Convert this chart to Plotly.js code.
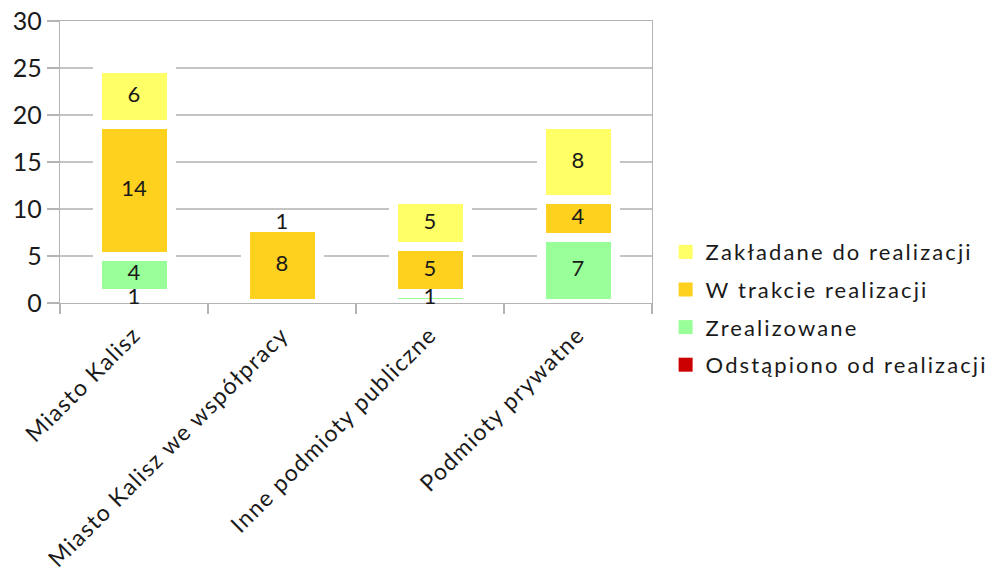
<!DOCTYPE html>
<html>
<head>
<meta charset="utf-8">
<script src="https://cdn.plot.ly/plotly-3.0.1.min.js"></script>
<style>
html,body{margin:0;padding:0;background:#fff;}
#chart{width:1003px;height:575px;}
#chart .legendtext{letter-spacing:2.1px;}
#chart .xtick text{letter-spacing:1.4px;}
#chart .legend [clip-path]{clip-path:none !important;}
</style>
</head>
<body>
<div id="chart"></div>
<script>
var categories = ["Miasto Kalisz", "Miasto Kalisz we współpracy", "Inne podmioty publiczne", "Podmioty prywatne"];
var seriesNames = ["Odstąpiono od realizacji", "Zrealizowane", "W trakcie realizacji", "Zakładane do realizacji"];
var odstapiono = [1, 0, 0, 0];
var zrealizowane = [4, 0, 1, 7];
var wTrakcie = [14, 8, 5, 4];
var zakladane = [6, 1, 5, 8];
var colors = ["#CC0000", "#99FF99", "#FFD11F", "#FFFF66"];
var outlineWidths = [10, 9, 9, 9];
var yTicks = [0, 5, 10, 15, 20, 25, 30];

var FONT = "Lato, 'DejaVu Sans', sans-serif";
var TXT = "#1a1a1a";
var seriesValues = [odstapiono, zrealizowane, wTrakcie, zakladane];

var traces = [];
// stacked bars (white outline makes the gaps between segments)
seriesValues.forEach(function (vals, i) {
  traces.push({
    type: "bar",
    name: seriesNames[i],
    x: categories,
    y: vals,
    showlegend: false,
    marker: { color: colors[i], line: { color: "#ffffff", width: outlineWidths[i] } },
    hoverinfo: "name+y"
  });
});

// value labels at the middle of each stacked segment
var labX = [], labY = [], labT = [];
categories.forEach(function (c, ci) {
  var base = 0;
  seriesValues.forEach(function (vals) {
    var v = vals[ci];
    if (v > 0) {
      labX.push(c);
      labY.push(base + v / 2);
      labT.push(String(v));
    }
    base += v;
  });
});
traces.push({
  type: "scatter",
  mode: "text",
  x: labX,
  y: labY,
  text: labT,
  textposition: "middle center",
  textfont: { family: FONT, size: 22, color: TXT },
  showlegend: false,
  hoverinfo: "skip",
  cliponaxis: false
});

// legend entries (square swatches)
for (var k = seriesNames.length - 1; k >= 0; k--) {
  traces.push({
    type: "scatter",
    mode: "markers",
    name: seriesNames[k],
    x: [null],
    y: [null],
    marker: { symbol: "square", size: 14, color: colors[k] },
    legendgroup: "g" + k,
    legendrank: seriesNames.length - k,
    showlegend: true,
    hoverinfo: "skip"
  });
}

var layout = {
  width: 1003,
  height: 575,
  margin: { l: 60, r: 351, t: 21, b: 272 },
  barmode: "stack",
  bargap: 0.5,
  paper_bgcolor: "#ffffff",
  plot_bgcolor: "#ffffff",
  font: { family: FONT, color: TXT },
  showlegend: true,
  legend: {
    x: 1.023, xanchor: "left",
    y: 0.255, yanchor: "top",
    traceorder: "grouped",
    tracegroupgap: 6,
    font: { family: FONT, size: 22, color: TXT },
    itemwidth: 30
  },
  xaxis: {
    type: "category",
    range: [-0.5, 3.5],
    tickson: "boundaries",
    ticks: "outside",
    ticklen: 10,
    tickcolor: "#b4b4b4",
    tickwidth: 1.3,
    tickangle: -45,
    ticklabelstandoff: 8,
    tickfont: { family: FONT, size: 23, color: TXT },
    showgrid: false,
    showline: true,
    mirror: true,
    linecolor: "#b4b4b4",
    linewidth: 1.3,
    layer: "below traces",
    zeroline: false
  },
  yaxis: {
    range: [0, 30],
    tickvals: yTicks,
    ticktext: yTicks.map(String),
    ticks: "outside",
    ticklen: 12,
    tickcolor: "#b4b4b4",
    tickwidth: 1.3,
    tickfont: { family: FONT, size: 25, color: TXT },
    showgrid: true,
    gridcolor: "#c4c4c4",
    gridwidth: 1.3,
    showline: true,
    mirror: true,
    linecolor: "#b4b4b4",
    linewidth: 1.3,
    layer: "below traces",
    zeroline: false
  }
};

Plotly.newPlot("chart", traces, layout, { displayModeBar: false, staticPlot: true });
</script>
</body>
</html>
